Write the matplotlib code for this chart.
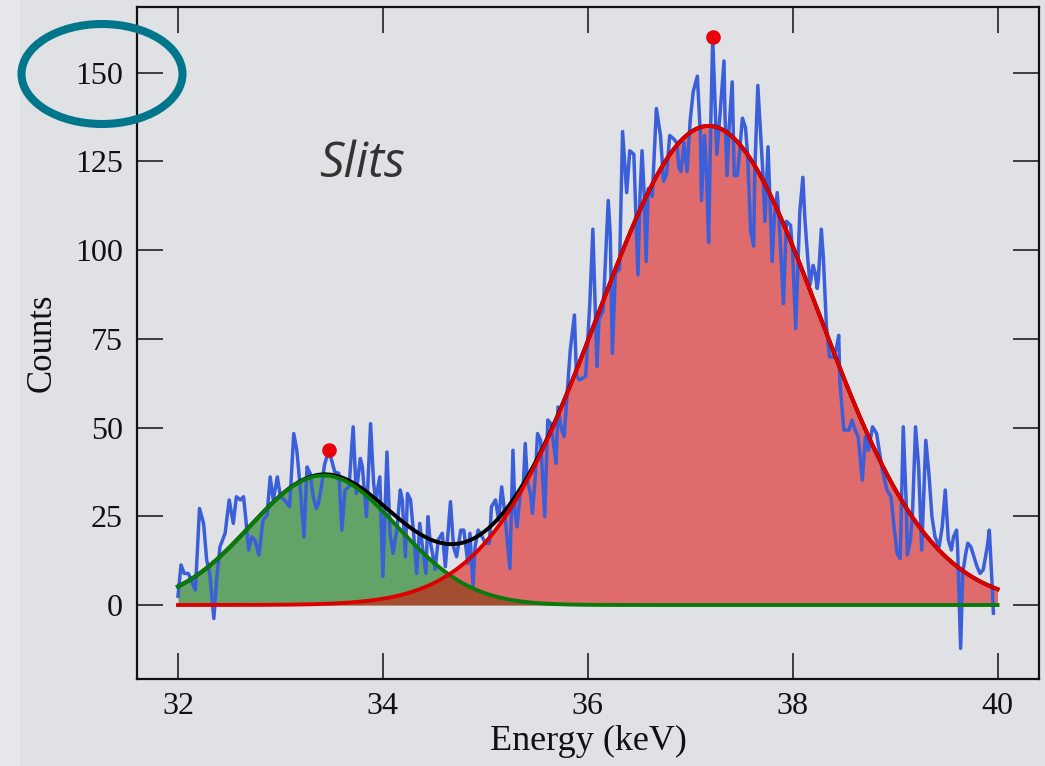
import numpy as np
import matplotlib
matplotlib.use("Agg")
import matplotlib.pyplot as plt
from matplotlib.patches import Ellipse, Rectangle

# ---- data ----
energy = [32.00, 32.03, 32.06, 32.10, 32.13, 32.17, 32.21, 32.25, 32.28, 32.31,
          32.35, 32.38, 32.41, 32.46, 32.50, 32.54, 32.57, 32.61, 32.64, 32.66,
          32.69, 32.72, 32.75, 32.79, 32.83, 32.87, 32.90, 32.93, 32.97, 33.00,
          33.04, 33.09, 33.13, 33.16, 33.19, 33.23, 33.26, 33.29, 33.32, 33.35,
          33.37, 33.40, 33.43, 33.47, 33.50, 33.53, 33.57, 33.60, 33.63, 33.67,
          33.71, 33.74, 33.78, 33.80, 33.84, 33.88, 33.91, 33.93, 33.97, 34.00,
          34.04, 34.07, 34.10, 34.14, 34.17, 34.19, 34.22, 34.24, 34.27, 34.30,
          34.33, 34.36, 34.39, 34.42, 34.44, 34.46, 34.49, 34.51, 34.54, 34.58,
          34.61, 34.66, 34.69, 34.72, 34.76, 34.79, 34.83, 34.85, 34.88, 34.90,
          34.93, 34.97, 35.00, 35.04, 35.06, 35.10, 35.13, 35.16, 35.19, 35.24,
          35.27, 35.29, 35.31, 35.34, 35.37, 35.39, 35.41, 35.44, 35.46, 35.49,
          35.51, 35.54, 35.58, 35.61, 35.64, 35.67, 35.69, 35.71, 35.74, 35.77,
          35.80, 35.83, 35.87, 35.89, 35.92, 35.95, 35.98, 36.02, 36.05, 36.09,
          36.11, 36.15, 36.20, 36.22, 36.24, 36.27, 36.31, 36.34, 36.37, 36.38,
          36.41, 36.45, 36.49, 36.51, 36.53, 36.55, 36.57, 36.59, 36.63, 36.67,
          36.71, 36.74, 36.77, 36.80, 36.84, 36.87, 36.89, 36.91, 36.94, 36.97,
          37.00, 37.03, 37.07, 37.10, 37.11, 37.14, 37.16, 37.18, 37.20, 37.22,
          37.24, 37.26, 37.29, 37.33, 37.34, 37.36, 37.38, 37.41, 37.43, 37.46,
          37.48, 37.51, 37.54, 37.56, 37.59, 37.62, 37.63, 37.66, 37.68, 37.71,
          37.73, 37.76, 37.78, 37.80, 37.82, 37.85, 37.87, 37.91, 37.94, 37.98,
          38.00, 38.03, 38.05, 38.07, 38.10, 38.12, 38.15, 38.17, 38.20, 38.22,
          38.24, 38.25, 38.28, 38.30, 38.33, 38.36, 38.40, 38.43, 38.45, 38.46,
          38.50, 38.55, 38.58, 38.61, 38.64, 38.68, 38.71, 38.74, 38.78, 38.82,
          38.84, 38.87, 38.92, 38.96, 38.99, 39.02, 39.05, 39.08, 39.11, 39.12,
          39.15, 39.17, 39.20, 39.23, 39.26, 39.30, 39.33, 39.36, 39.39, 39.43,
          39.46, 39.49, 39.52, 39.55, 39.57, 39.60, 39.61, 39.64, 39.66, 39.69,
          39.71, 39.74, 39.77, 39.80, 39.83, 39.86, 39.90, 39.92, 39.95, 39.96]
counts = [2.5, 11.3, 8.9, 8.9, 7.0, 4.2, 27.2, 23.0, 12.7, 8.9,
          -3.8, 8.0, 16.4, 20.2, 29.6, 23.0, 30.5, 29.6, 30.5, 24.9,
          15.5, 19.2, 18.3, 14.1, 23.9, 25.3, 36.1, 29.6, 36.1, 30.5,
          29.6, 27.7, 48.3, 43.6, 34.2, 19.2, 38.9, 37.1, 30.5, 27.2,
          28.6, 33.3, 39.4, 43.6, 40.8, 37.5, 37.1, 21.1, 32.4, 33.3,
          50.2, 31.4, 41.3, 38.9, 24.9, 51.1, 34.2, 29.6, 36.1, 8.0,
          43.1, 20.2, 14.5, 22.0, 32.4, 29.6, 13.6, 31.4, 29.6, 20.2,
          8.9, 23.0, 15.5, 8.9, 24.9, 18.3, 13.6, 10.0, 18.3, 20.2,
          10.8, 29.1, 16.4, 13.6, 21.1, 21.1, 11.7, 20.2, 5.2, 16.4,
          21.1, 19.2, 17.4, 17.4, 27.7, 29.6, 23.9, 33.3, 25.8, 10.3,
          43.6, 25.8, 22.0, 31.4, 33.3, 45.5, 35.2, 31.4, 25.8, 37.1,
          48.3, 46.4, 24.9, 52.1, 51.1, 44.6, 39.9, 55.8, 50.0, 47.5,
          60.0, 72.0, 81.7, 64.5, 63.4, 63.9, 64.5, 84.9, 105.9, 67.2,
          80.6, 82.8, 114.0, 104.3, 70.9, 93.6, 94.6, 133.4, 120.5, 116.2,
          128.0, 127.0, 93.0, 115.1, 128.0, 116.2, 96.8, 117.3, 115.1, 139.9,
          132.3, 119.4, 121.5, 132.3, 131.3, 130.2, 123.2, 122.1, 130.2, 122.1,
          136.6, 144.7, 149.0, 132.3, 114.0, 132.3, 121.5, 102.2, 134.5, 159.8,
          143.1, 127.0, 137.7, 153.3, 137.7, 121.0, 134.5, 147.4, 121.0, 121.0,
          127.0, 137.2, 134.5, 127.0, 105.4, 101.1, 121.5, 146.4, 136.6, 121.5,
          108.1, 129.1, 112.9, 96.8, 108.6, 116.2, 107.6, 84.9, 108.1, 107.0,
          99.0, 77.9, 94.6, 110.8, 120.5, 108.6, 96.8, 90.3, 95.7, 93.6,
          89.2, 91.4, 105.9, 97.9, 78.5, 69.9, 69.9, 72.7, 76.0, 63.3,
          49.3, 49.3, 52.1, 49.3, 47.4, 35.2, 47.4, 43.6, 50.2, 48.3,
          44.6, 38.9, 32.4, 30.5, 22.0, 14.5, 13.1, 50.2, 27.7, 14.1,
          18.3, 25.8, 50.2, 38.9, 15.5, 46.4, 37.1, 24.9, 19.2, 16.4,
          22.0, 32.4, 18.3, 15.5, 19.2, 21.1, 16.4, -12.2, 8.9, 14.5,
          17.4, 16.4, 13.6, 10.8, 8.9, 9.9, 16.4, 21.1, 4.2, -2.3]

# Gaussian fit parameters (amplitude, centre, sigma)
fit_amp = [36.5, 135.0]
fit_center = [33.42, 37.18]
fit_sigma = [0.72, 1.08]
fit_range = [32.0, 40.0]

peak_E = [33.47, 37.22]
peak_C = [43.8, 160.0]

xticks = [32, 34, 36, 38, 40]
yticks = [0, 25, 50, 75, 100, 125, 150]

# ---- figure ----
W, H = 1045, 766
BG = "#dfe1e5"
fig = plt.figure(figsize=(W / 100, H / 100), dpi=100, facecolor=BG)
fig.patches.append(Rectangle((0, 0), 20 / W, 1, transform=fig.transFigure,
                             facecolor="#e7e8eb", edgecolor="none", zorder=0))

ax = fig.add_axes([137 / W, 1 - 679 / H, (1039 - 137) / W, (679 - 7) / H])
ax.set_facecolor(BG)

xf = np.linspace(fit_range[0], fit_range[1], 500)
g1 = fit_amp[0] * np.exp(-(xf - fit_center[0]) ** 2 / (2 * fit_sigma[0] ** 2))
g2 = fit_amp[1] * np.exp(-(xf - fit_center[1]) ** 2 / (2 * fit_sigma[1] ** 2))

ax.fill_between(xf, 0, g1, color="#007000", alpha=0.55, linewidth=0, zorder=1)
ax.fill_between(xf, 0, g2, color="#e00000", alpha=0.52, linewidth=0, zorder=2)

ax.plot(energy, counts, color="#3b5fd9", linewidth=2.5, zorder=3)
ax.plot(xf, g1 + g2, color="black", linewidth=2.8, zorder=4)
ax.plot(xf, g1, color="#0a7a0a", linewidth=2.8, zorder=5)
ax.plot(xf, g2, color="#dd0000", linewidth=2.8, zorder=6)
ax.plot(peak_E, peak_C, "o", color="#e8000b", markersize=10.5, zorder=7,
        markeredgewidth=0)

ax.set_xlim(31.60, 40.405)
ax.set_ylim(-20.85, 168.5)
ax.set_xticks(xticks)
ax.set_yticks(yticks)
ax.set_xticklabels([str(t) for t in xticks])
ax.set_yticklabels([str(t) for t in yticks])

serif = "Liberation Serif"
ax.tick_params(direction="in", length=19, width=1.1, top=True, right=True,
               labelsize=23, colors="#111111")
ax.tick_params(axis="x", pad=9)
ax.tick_params(axis="y", pad=10)
for lab in ax.get_xticklabels() + ax.get_yticklabels():
    lab.set_fontfamily(serif)
for sp in ax.spines.values():
    sp.set_linewidth(1.6)
    sp.set_color("#111111")

ax.set_xlabel("Energy (keV)", fontsize=26, fontfamily=serif, labelpad=3, color="#111111")
ax.set_ylabel("Counts", fontsize=25, fontfamily=serif, labelpad=12, color="#111111")

fig.text(362 / W, 1 - 164 / H, "Slits", fontsize=35, fontstyle="italic",
         fontfamily="Open Sans", color="#333333", ha="center", va="center")

fig.patches.append(Ellipse((102 / W, 1 - 74 / H), 161 / W, 100 / H,
                           transform=fig.transFigure, fill=False,
                           edgecolor="#00768a", linewidth=5.8, zorder=10))

fig.savefig("out.png", dpi=100, facecolor=BG)
